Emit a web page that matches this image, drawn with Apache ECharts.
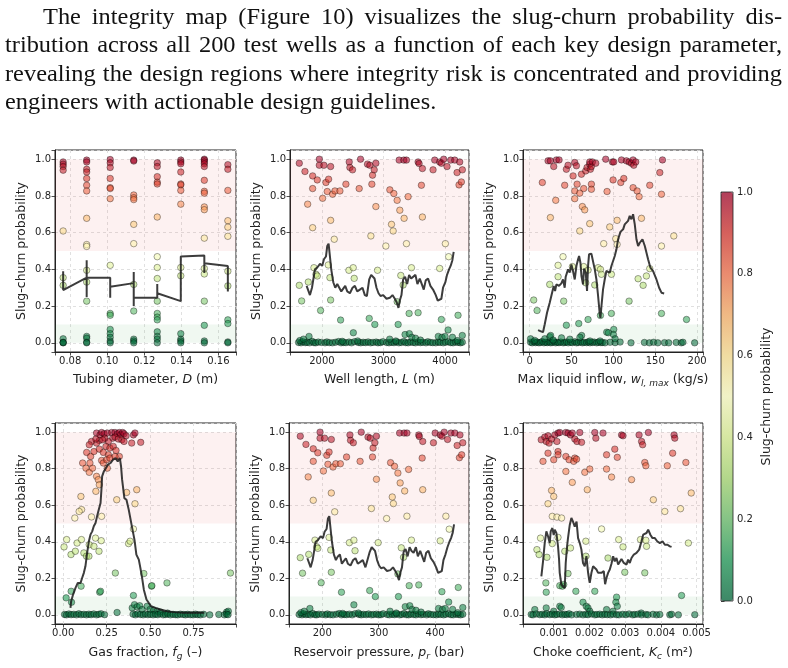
<!DOCTYPE html>
<html>
<head>
<meta charset="utf-8">
<script src="https://cdn.jsdelivr.net/npm/echarts@6.0.0/dist/echarts.min.js"></script>
<style>
html, body { margin: 0; padding: 0; background: #fff; }
#main { width: 788px; height: 668px; }
</style>
</head>
<body>
<div id="main"></div>
<script>
// paragraph above the figure
var paraLines = [
  'The integrity map (Figure 10) visualizes the slug-churn probability dis-',
  'tribution across all 200 test wells as a function of each key design parameter,',
  'revealing the design regions where integrity risk is concentrated and providing',
  'engineers with actionable design guidelines.'
];

// RdYlGn reversed
var cmap = ['#006837', '#1a9850', '#66bd63', '#a6d96a', '#d9ef8b', '#ffffbf',
  '#fee08b', '#fdae61', '#f46d43', '#d73027', '#a50026'];

// --- tubing diameter (discrete sizes) ---
var diamCols = [0.0762, 0.0889, 0.1016, 0.1143, 0.1270, 0.1397, 0.1524, 0.1651];
var diamProb = [
  [0.985, 0.973, 0.96, 0.94, 0.609, 0.355, 0.313, 0.022, 0.0, 0.003, 0.001],
  [0.995, 0.985, 0.945, 0.93, 0.895, 0.858, 0.827, 0.678, 0.535, 0.525, 0.395, 0.331, 0.227, 0.035, 0.025, 0.003, 0.0],
  [0.998, 0.98, 0.955, 0.895, 0.845, 0.84, 0.785, 0.422, 0.16, 0.15, 0.073, 0.05, 0.03, 0.01, 0.0],
  [0.995, 0.99, 0.805, 0.79, 0.78, 0.645, 0.54, 0.318, 0.173, 0.02, 0.01, 0.0],
  [0.98, 0.96, 0.905, 0.875, 0.865, 0.685, 0.469, 0.41, 0.35, 0.227, 0.16, 0.14, 0.125, 0.06, 0.035, 0.02, 0.0],
  [0.995, 0.985, 0.975, 0.93, 0.865, 0.86, 0.83, 0.755, 0.41, 0.365, 0.05, 0.02, 0.01, 0.0],
  [1.0, 0.995, 0.985, 0.975, 0.96, 0.885, 0.825, 0.815, 0.74, 0.725, 0.57, 0.405, 0.375, 0.227, 0.095, 0.01, 0.0],
  [0.97, 0.945, 0.83, 0.665, 0.63, 0.58, 0.39, 0.31, 0.125, 0.105, 0.005, 0.0]
];
var diamMean = [[0.0762,0.39],[0.0762,0.33],[0.0762,0.36],[0.0762,0.287],[0.0889,0.355],[0.0889,0.45],
  [0.0889,0.25],[0.0889,0.40],[0.0889,0.355],[0.1016,0.355],[0.1016,0.245],[0.1016,0.305],[0.1143,0.325],
  [0.1143,0.385],[0.1143,0.20],[0.1143,0.245],[0.1270,0.245],[0.1270,0.32],[0.1270,0.27],[0.1397,0.227],
  [0.1397,0.47],[0.1397,0.46],[0.1524,0.475],[0.1524,0.48],[0.1524,0.38],[0.1524,0.433],[0.1651,0.418],[0.1651,0.28]];

// --- well length / reservoir pressure (same wells) ---
var lenX = [1632,1724,1768,1849,1849,1849,1924,1957,1957,2011,2032,2065,2086,2108,2141,2141,2173,2200,2211,2292,
  2389,2443,2454,2497,2605,2627,2740,2778,2811,2822,2849,2876,2795,2876,3038,3103,3168,3222,3130,3157,
  3254,3330,3373,3265,3335,3373,3400,3562,3578,3616,3632,3632,3805,3832,3913,3940,3978,4032,4092,4157,
  4238,4195,4227,4265,4281,4005,4059,
  1632,1670,1778,1870,1903,1924,1978,2103,2130,2141,2303,2438,2508,2524,2768,2859,2903,3238,3281,3319,
  3416,3562,3454,3913,3940,4049,4211,3222,
  1620,1660,1690,1730,1760,1800,1840,1870,1900,1940,1990,2050,2080,2120,2170,2220,2270,2310,2350,2390,
  2440,2480,2530,2590,2630,2670,2710,2750,2790,2830,2880,2910,2950,2990,3050,3090,3130,3170,3210,3250,
  3290,3330,3360,3400,3440,3480,3520,3560,3600,3640,3690,3720,3760,3800,3850,3890,3920,3970,4010,4050,
  4090,4130,4170,4210,4250,4280,
  1640,1700,1790,2330,2510,2580,3100,3200,3350,3420,3460,3520,3600,3890,3950,4000,4120,4200,4280];
var presX = [161,171,175,184,184,184,192,196,196,202,204,208,210,212,216,216,219,222,224,232,
  243,249,250,255,267,269,281,285,289,290,293,296,287,296,314,321,328,334,324,326,
  337,345,350,338,346,350,353,371,372,377,378,378,397,400,409,412,416,422,428,435,
  444,439,443,447,449,419,425,
  161,165,176,187,190,192,198,212,215,216,234,248,256,258,284,294,299,335,340,344,
  354,371,358,409,412,424,441,334,
  159,164,167,171,175,179,183,187,190,194,200,206,209,214,219,225,230,234,239,243,
  248,253,258,265,269,273,278,282,287,291,296,300,304,308,315,319,324,328,332,337,
  341,345,349,353,357,362,366,370,375,379,385,388,392,397,402,406,410,415,419,424,
  428,432,437,441,445,449,
  162,168,178,236,256,264,320,331,347,355,359,366,375,406,413,418,431,440,449];
var wellProb = [0.978,0.933,0.755,0.909,0.84,0.627,0.887,1.0,0.967,0.787,0.967,0.873,0.824,0.891,0.96,0.667,0.809,0.564,0.827,0.827,
  0.864,0.985,0.955,0.942,0.84,1.0,0.973,0.967,0.864,0.913,0.942,0.978,0.582,0.742,0.527,0.833,0.813,0.776,0.645,0.609,
  0.995,0.995,0.995,0.722,0.678,0.54,0.796,0.985,0.976,0.858,0.949,0.685,0.942,0.995,0.985,0.978,1.0,0.96,0.995,0.995,
  0.985,0.927,0.86,0.876,0.942,0.54,0.469,
  0.313,0.228,0.331,0.409,0.373,0.364,0.176,0.424,0.355,0.233,0.124,0.395,0.409,0.351,0.133,0.1,0.395,0.1,0.367,0.315,
  0.16,0.164,0.409,0.405,0.127,0.07,0.15,0.224,
  0.002,0,0.006,0.001,0.003,0,0.008,0.001,0,0.004,0.002,0,0.005,0.001,0,0.003,0.007,0,0.002,0.001,
  0.004,0,0.006,0.002,0,0.003,0.001,0.005,0,0.002,0.004,0,0.001,0.006,0.002,0,0.003,0.001,0.005,0,
  0.002,0.007,0.001,0,0.004,0.002,0,0.005,0.001,0.003,0,0.006,0.002,0.001,0,0.004,0.002,0,0.003,0.006,
  0.001,0,0.004,0.002,0,0.003,
  0.012,0.02,0.035,0.008,0.055,0.01,0.02,0.01,0.045,0.05,0.03,0.025,0.015,0.035,0.03,0.035,0.03,0.012,0.04];
var lenMeanX = [1751,1778,1805,1838,1886,1924,1968,2005,2032,2065,2086,2108,2130,2151,2184,2216,2249,2281,2314,2346,
  2378,2411,2454,2497,2535,2573,2616,2659,2697,2730,2768,2800,2827,2854,2886,2919,2951,2995,3049,3103,
  3146,3184,3216,3243,3265,3292,3319,3351,3384,3416,3449,3481,3519,3551,3589,3622,3654,3686,3724,3762,
  3805,3849,3881,3913,3940,3967,4005,4032,4065,4092,4119,4140];
var presMeanX = [173.5,176.5,179.4,182.9,188.2,192.4,197.1,201.2,204.1,207.6,210,212.4,214.7,217.1,220.6,224.1,227.6,231.2,234.7,238.2,
  241.8,245.3,250,254.7,258.8,262.9,267.6,271.8,276.5,280,284.1,287.6,290.6,293.5,297.1,300.6,304.1,308.8,314.7,320.6,
  325.3,329.4,332.9,335.9,338.2,341.2,344.1,347.6,351.2,354.7,358.2,361.8,365.9,369.4,373.5,377.1,380.6,384.1,388.2,392.4,
  397.1,401.8,405.3,408.8,411.8,414.7,418.2,421.8,425.3,428.2,431.2,433.5];
var wellMeanY = [0.31,0.30,0.26,0.30,0.40,0.41,0.43,0.42,0.455,0.47,0.527,0.54,0.47,0.40,0.33,0.30,0.32,0.33,0.28,0.29,
  0.31,0.28,0.27,0.30,0.31,0.28,0.29,0.30,0.26,0.255,0.345,0.37,0.38,0.35,0.30,0.27,0.255,0.26,0.24,0.245,
  0.26,0.24,0.22,0.19,0.23,0.26,0.345,0.36,0.32,0.37,0.35,0.34,0.37,0.32,0.35,0.32,0.29,0.34,0.35,0.31,
  0.29,0.26,0.23,0.225,0.24,0.30,0.33,0.37,0.40,0.42,0.45,0.495];

// --- max liquid inflow ---
var inflowPts = [[21.9,0.991],[24.7,0.991],[28.7,0.96],[31.9,0.996],[35.1,0.996],[24.7,0.682],[31.1,0.776],[15.1,0.873],
  [41.8,0.858],[43.8,0.945],[45.8,0.967],[51.8,0.909],[53.8,0.982],[55.8,0.964],[53.8,0.827],[56.6,0.864],[53.8,0.785],
  [59.8,0.815],[59.8,0.609],[61.8,0.918],[62.9,0.742],[65.7,0.724],[64.5,0.84],[66.9,0.936],[68.5,0.955],[71.7,0.973],
  [72.5,0.945],[71.7,0.985],[73.7,0.96],[74.9,0.985],[73.7,0.864],[73.7,0.836],[71.7,0.649],[78.9,0.978],[90.8,1.0],
  [92.4,0.824],[95.6,0.631],[98.8,0.985],[99.6,0.887],[100.4,0.985],[102.8,0.567],[104.4,0.667],[104.4,0.536],[88.4,0.54],
  [108.8,0.873],[109.6,0.996],[112.4,0.895],[115.5,0.991],[118.7,0.985],[121.5,0.978],[123.5,0.996],[123.5,0.845],
  [124.3,0.967],[126.7,0.985],[128.3,0.827],[130.7,0.796],[133.5,0.678],[143.4,0.858],[155.4,0.927],[158.6,0.996],
  [157.4,0.809],[157.4,0.527],[172.1,0.582],
  [4.8,0.233],[8.8,0.176],[23.9,0.318],[33.9,0.422],[33.9,0.36],[39.8,0.469],[40.6,0.227],[43.8,0.096],[51,0.415],
  [58.6,0.105],[64.5,0.415],[66.9,0.327],[69.7,0.396],[69.7,0.127],[77.7,0.315],[81.7,0.409],[84.5,0.4],[85.7,0.373],
  [84.5,0.149],[97.6,0.373],[97.6,0.16],[100.4,0.073],[118.7,0.227],[129.5,0.349],[135.5,0.313],[139.4,0.364],
  [143.4,0.404],[157.4,0.16],[187.3,0.127],
  [1,0.003],[3,0],[5,0.006],[7,0.001],[9,0.004],[11,0],[13,0.002],[15,0.007],[17,0],[19,0.003],[21,0.001],[23,0.005],
  [25,0],[27,0.002],[29,0.006],[31,0],[33,0.003],[35,0.001],[37,0.004],[40,0],[42,0.002],[44,0.005],[46,0],[49,0.003],
  [51,0.001],[54,0.006],[56,0],[58,0.002],[61,0.004],[63,0],[65,0.003],[68,0.001],[70,0.005],[72,0],[75,0.002],
  [77,0.004],[80,0],[82,0.003],[85,0.001],[87,0.002],[90,0],[96,0.003],[102,0.001],[108,0.004],[121,0],[137,0.002],
  [143,0],[148,0.003],[153,0],[161,0.001],[166,0],[175,0.002],[181,0],[183,0.003],[197,0],
  [1,0.022],[6,0.013],[18,0.022],[24,0.033],[25,0.04],[28,0.015],[38,0.027],[48,0.02],[62,0.04],[72,0.01],
  [92,0.058],[94,0.055],[100,0.045],[102,0.022],[60,0.03],[84,0.01]];
var inflowMean = [[10,0.069],[12.7,0.064],[15.9,0.058],[17.9,0.1],[20.7,0.164],[23.9,0.218],[27.1,0.28],[28.7,0.31],
  [30.3,0.282],[31.9,0.318],[35,0.31],[37.8,0.324],[39.8,0.345],[41.8,0.3],[43,0.36],[45.8,0.4],[47.8,0.382],
  [49.8,0.427],[51.8,0.39],[53.8,0.345],[55.8,0.418],[57.8,0.455],[59,0.473],[60.6,0.436],[61.8,0.364],[63.7,0.318],
  [64.9,0.404],[66.9,0.382],[68.5,0.282],[69.7,0.418],[70.9,0.482],[73.7,0.485],[75.7,0.482],[77.7,0.4],[79.7,0.345],
  [81.7,0.255],[83.7,0.155],[84.5,0.136],[85.7,0.2],[87.6,0.291],[89.6,0.345],[91.6,0.391],[93.6,0.4],[95.6,0.382],
  [97.6,0.418],[99.6,0.427],[101.6,0.473],[103.6,0.509],[105.6,0.564],[108.4,0.604],[111.6,0.618],[113.5,0.645],
  [115.5,0.655],[117.5,0.664],[119.5,0.691],[121.5,0.673],[123.5,0.7],[125.5,0.645],[127.5,0.564],[129.5,0.527],
  [131.5,0.545],[134.7,0.564],[137.5,0.527],[141.4,0.455],[144.2,0.409],[147.4,0.391],[151.4,0.345],[154.6,0.3],
  [157.4,0.273],[160.6,0.269]];

// --- gas fraction ---
var gasPts = [[0.192,0.995],[0.212,0.985],[0.221,0.998],[0.235,0.991],[0.254,0.995],[0.279,0.998],[0.298,0.998],
  [0.312,0.991],[0.323,0.998],[0.331,0.985],[0.342,0.998],[0.35,0.991],[0.362,0.98],[0.285,0.967],[0.298,0.973],
  [0.317,0.962],[0.337,0.958],[0.35,0.949],[0.26,0.949],[0.24,0.967],[0.208,0.954],[0.192,0.94],[0.163,0.949],
  [0.15,0.931],[0.188,0.962],[0.227,0.958],[0.404,0.985],[0.413,0.995],[0.394,0.94],[0.446,0.944],[0.135,0.889],
  [0.158,0.867],[0.177,0.894],[0.208,0.907],[0.246,0.922],[0.269,0.913],[0.288,0.922],[0.304,0.9],[0.323,0.867],
  [0.231,0.889],[0.26,0.876],[0.221,0.845],[0.231,0.831],[0.112,0.831],[0.131,0.803],[0.15,0.78],[0.169,0.803],
  [0.154,0.831],[0.25,0.849],[0.254,0.803],[0.269,0.858],[0.298,0.867],[0.192,0.758],[0.202,0.74],[0.188,0.676],
  [0.208,0.712],[0.365,0.67],[0.423,0.685],[0.308,0.63],[0.102,0.648],[0.106,0.576],[0.092,0.566],[0.067,0.53],
  [0.163,0.536],[0.221,0.539],[0.413,0.608],
  [0.005,0.372],[0.02,0.412],[0.045,0.33],[0.07,0.348],[0.08,0.393],[0.105,0.412],[0.119,0.339],[0.134,0.321],
  [0.148,0.321],[0.15,0.384],[0.177,0.375],[0.186,0.42],[0.206,0.348],[0.219,0.406],[0.376,0.39],[0.385,0.403],
  [0.404,0.47],[0.3,0.229],[0.21,0.124],[0.215,0.129],[0.103,0.157],[0.464,0.226],[0.508,0.157],[0.51,0.16],
  [0.597,0.175],[0.404,0.106],[0.962,0.229],[0.017,0.093],[0.046,0.129],[0.048,0.069],
  [0.397,0.038],[0.41,0.056],[0.425,0.044],[0.44,0.05],[0.454,0.029],[0.483,0.047],[0.5,0.03],[0.52,0.025],
  [0.54,0.02],[0.56,0.015],[0.31,0.013],[0.6,0.01],[0.94,0.015],[0.95,0.02],
  [0.008,0.002],[0.019,0],[0.033,0.005],[0.046,0.001],[0.061,0.003],[0.077,0],[0.09,0.006],[0.103,0.001],
  [0.119,0.003],[0.134,0],[0.148,0.004],[0.161,0.001],[0.176,0.005],[0.192,0],[0.205,0.003],[0.218,0.006],
  [0.238,0.001],[0.402,0.004],[0.416,0],[0.429,0.006],[0.444,0.002],[0.46,0],[0.473,0.005],[0.487,0.001],
  [0.502,0.003],[0.517,0],[0.531,0.004],[0.544,0.001],[0.559,0.006],[0.575,0],[0.588,0.002],[0.602,0.004],
  [0.617,0],[0.632,0.003],[0.646,0.001],[0.659,0],[0.674,0.004],[0.69,0.002],[0.703,0],[0.716,0.003],
  [0.732,0.001],[0.747,0],[0.761,0.004],[0.774,0.001],[0.789,0],[0.808,0.003],[0.843,0],[0.895,0.002],
  [0.927,0],[0.939,0.004],[0.948,0.001]];
var gasMean = [[0.042,0.038],[0.046,0.075],[0.057,0.111],[0.071,0.148],[0.084,0.175],[0.1,0.175],[0.109,0.202],
  [0.119,0.23],[0.128,0.266],[0.138,0.339],[0.148,0.403],[0.157,0.439],[0.167,0.457],[0.176,0.485],[0.186,0.503],
  [0.195,0.539],[0.205,0.576],[0.215,0.612],[0.22,0.685],[0.224,0.758],[0.234,0.785],[0.243,0.798],[0.257,0.822],
  [0.272,0.831],[0.287,0.849],[0.301,0.858],[0.314,0.84],[0.326,0.858],[0.333,0.812],[0.339,0.74],[0.352,0.639],
  [0.364,0.63],[0.377,0.576],[0.397,0.475],[0.41,0.412],[0.421,0.33],[0.435,0.302],[0.444,0.257],[0.454,0.202],
  [0.464,0.138],[0.479,0.084],[0.492,0.066],[0.506,0.047],[0.531,0.038],[0.559,0.029],[0.598,0.02],[0.636,0.015],
  [0.693,0.011],[0.751,0.011],[0.812,0.011]];

// --- choke coefficient ---
var chokePts = [[0.00065,0.958],[0.00075,0.973],[0.00079,0.949],[0.00084,0.98],[0.00087,0.94],[0.00094,0.962],
  [0.00103,0.985],[0.00112,0.995],[0.00117,0.998],[0.00109,0.949],[0.00134,0.998],[0.0014,0.995],[0.00147,0.985],
  [0.00152,0.995],[0.00159,0.962],[0.00165,0.949],[0.00173,0.998],[0.00178,0.944],[0.00215,0.998],[0.00218,0.967],
  [0.00238,0.995],[0.0029,0.985],[0.00294,0.98],[0.00339,0.985],[0.00346,0.949],[0.00349,0.931],[0.00365,0.998],
  [0.00437,0.985],[0.00439,0.967],[0.0007,0.84],[0.00084,0.885],[0.001,0.849],[0.00112,0.894],[0.00112,0.876],
  [0.00134,0.867],[0.00143,0.849],[0.00159,0.858],[0.00156,0.84],[0.00164,0.852],[0.00134,0.785],[0.00152,0.725],
  [0.00187,0.78],[0.00201,0.798],[0.00194,0.685],[0.00248,0.876],[0.00248,0.798],[0.00262,0.754],[0.00271,0.907],
  [0.00278,0.862],[0.00318,0.74],[0.00355,0.834],[0.00358,0.816],[0.00379,0.63],[0.00418,0.816],[0.00433,0.885],
  [0.0047,0.834],[0.00411,0.566],[0.00455,0.581],[0.00485,0.667],[0.00094,0.681],[0.001,0.648],[0.00084,0.608],
  [0.00096,0.539],[0.00109,0.535],[0.00122,0.53],
  [0.00063,0.42],[0.00053,0.357],[0.00059,0.33],[0.00081,0.315],[0.00096,0.39],[0.00112,0.424],[0.00131,0.348],
  [0.00147,0.366],[0.0014,0.226],[0.0019,0.403],[0.0019,0.321],[0.00234,0.47],[0.00252,0.311],[0.00282,0.412],
  [0.00294,0.372],[0.00299,0.233],[0.00343,0.412],[0.00358,0.408],[0.0036,0.375],[0.00355,0.23],[0.00477,0.393],
  [0.00078,0.175],[0.00079,0.124],[0.00117,0.16],[0.00124,0.157],[0.00128,0.166],[0.00162,0.129],[0.00215,0.129],
  [0.00276,0.097],[0.00458,0.106],
  [0.00047,0.029],[0.00079,0.038],[0.001,0.02],[0.00117,0.047],[0.00121,0.04],[0.00182,0.069],[0.00191,0.047],
  [0.00196,0.038],[0.00201,0.02],[0.00248,0.029],[0.00274,0.069],[0.00278,0.047],[0.00266,0.02],[0.00345,0.01],
  [0.00037,0.002],[0.00042,0],[0.00051,0.005],[0.00061,0.001],[0.00068,0.003],[0.00075,0],[0.00081,0.006],
  [0.00089,0.001],[0.00096,0.004],[0.00103,0],[0.00109,0.002],[0.00117,0.005],[0.00124,0],[0.00131,0.003],
  [0.00137,0.001],[0.00143,0.006],[0.0015,0],[0.00164,0.002],[0.00173,0.004],[0.00182,0],[0.0019,0.003],
  [0.00196,0.001],[0.00206,0.005],[0.00215,0],[0.00221,0.002],[0.00229,0.004],[0.00236,0],[0.00243,0.003],
  [0.0025,0.001],[0.00259,0],[0.00266,0.004],[0.00276,0.001],[0.00283,0],[0.00293,0.003],[0.00302,0.001],
  [0.00311,0.005],[0.00321,0],[0.00327,0.002],[0.00336,0.004],[0.00346,0],[0.00358,0.002],[0.00364,0],
  [0.00378,0.003],[0.00388,0],[0.00397,0.002],[0.00425,0],[0.0043,0.003],[0.00449,0],[0.00495,0.001]];
var chokeMeanX = [0.000654,0.000701,0.000748,0.000794,0.000841,0.000888,0.000916,0.000963,0.001,0.001028,
  0.001075,0.001121,0.00115,0.001168,0.001215,0.001262,0.001308,0.001336,0.001374,0.0014,
  0.001449,0.001495,0.00154,0.001589,0.00164,0.001682,0.00173,0.001776,0.00182,0.001869,
  0.001916,0.001963,0.001991,0.002009,0.002056,0.002103,0.00215,0.002196,0.002243,0.002336,
  0.002402,0.002439,0.002477,0.002523,0.00257,0.002617,0.002664,0.00271,0.002757,0.002804,
  0.00285,0.002897,0.002963,0.003037,0.003084,0.00313,0.003178,0.003243,0.003318,0.003393,
  0.003458,0.003505,0.003551,0.003598,0.003645,0.00371,0.003766,0.003832,0.003897,0.003972,
  0.004047,0.004112,0.004187,0.004252,0.0043];
var chokeMeanY = [0.211,0.293,0.393,0.457,0.43,0.393,0.457,0.475,0.437,0.466,
  0.448,0.375,0.302,0.23,0.166,0.17,0.146,0.284,0.375,0.42,
  0.492,0.53,0.51,0.483,0.51,0.42,0.393,0.357,0.284,0.266,
  0.321,0.23,0.193,0.175,0.23,0.266,0.275,0.248,0.23,0.23,
  0.239,0.168,0.202,0.23,0.248,0.28,0.321,0.293,0.311,0.275,
  0.284,0.306,0.284,0.275,0.302,0.284,0.311,0.33,0.339,0.357,
  0.403,0.439,0.43,0.448,0.466,0.437,0.42,0.42,0.403,0.393,
  0.403,0.384,0.384,0.375,0.372];

var probTicks = [0, 0.2, 0.4, 0.6, 0.8, 1.0];

function zip(a, b) {
  return a.map(function (v, i) { return [v, b[i]]; });
}

var diamPts = [];
diamCols.forEach(function (d, i) {
  diamProb[i].forEach(function (p) { diamPts.push([d, p]); });
});

var panels = [
  { pts: diamPts, mean: diamMean, range: [0.0718, 0.1695], step: 0.02, dec: 2,
    name: 'Tubing diameter, {i|D} (m)' },
  { pts: zip(lenX, wellProb), mean: zip(lenMeanX, wellMeanY), range: [1481, 4389], step: 1000, dec: 0,
    name: 'Well length, {i|L} (m)' },
  { pts: inflowPts, mean: inflowMean, range: [-8, 207], step: 50, dec: 0,
    name: 'Max liquid inflow, {i|w}{s|l, max} (kg/s)' },
  { pts: gasPts, mean: gasMean, range: [-0.047, 0.994], step: 0.25, dec: 2,
    name: 'Gas fraction, {i|f}{s|g} (\u2013)' },
  { pts: zip(presX, wellProb), mean: zip(presMeanX, wellMeanY), range: [141, 460], step: 100, dec: 0,
    name: 'Reservoir pressure, {i|p}{s|r} (bar)' },
  { pts: chokePts, mean: zip(chokeMeanX, chokeMeanY), range: [0.00014, 0.00518], step: 0.001, dec: 3,
    name: 'Choke coefficient, {i|K}{s|c} (m\u00b2)' }
];

var boxes = [
  { left: 55, top: 150, width: 181, height: 202 },
  { left: 290, top: 150, width: 179, height: 202 },
  { left: 523, top: 150, width: 180, height: 202 },
  { left: 55, top: 423, width: 181, height: 201 },
  { left: 289, top: 423, width: 180, height: 201 },
  { left: 523, top: 423, width: 180, height: 201 }
];

var ink = '#222';
var sans = 'DejaVu Sans';

function tickFmt(step, dec) {
  return function (v) {
    var q = v / step;
    return Math.abs(q - Math.round(q)) < 1e-6 ? v.toFixed(dec) : '';
  };
}

var grids = [], xAxes = [], yAxes = [], series = [];
panels.forEach(function (p, i) {
  var b = boxes[i];
  grids.push({ left: b.left, top: b.top, width: b.width, height: b.height,
    show: true, borderColor: ink, borderWidth: 1, backgroundColor: 'transparent' });
  xAxes.push({
    type: 'value', gridIndex: i, min: p.range[0], max: p.range[1],
    minInterval: p.step, maxInterval: p.step,
    splitNumber: Math.round((p.range[1] - p.range[0]) / p.step),
    name: p.name, nameLocation: 'middle', nameGap: i < 3 ? 20 : 21,
    nameTextStyle: { color: ink, fontSize: 12.5, fontFamily: sans, lineHeight: 16,
      rich: {
        i: { fontStyle: 'italic', fontSize: 12.5, fontFamily: sans, color: ink, lineHeight: 16 },
        s: { fontStyle: 'italic', fontSize: 9, fontFamily: sans, color: ink, lineHeight: 10, verticalAlign: 'bottom' }
      } },
    axisLine: { show: true, onZero: false, lineStyle: { color: ink, width: 1 } },
    axisTick: { show: true, inside: false, length: 3.5, lineStyle: { color: ink, width: 0.8 } },
    axisLabel: { color: ink, fontSize: 10, fontFamily: sans, margin: 4, formatter: tickFmt(p.step, p.dec) },
    splitLine: { show: true, lineStyle: { color: '#d8d8d8', type: [3, 3], width: 0.8 } }
  });
  yAxes.push({
    type: 'value', gridIndex: i, min: -0.05, max: 1.05, minInterval: 0.2, maxInterval: 0.2, splitNumber: 5,
    name: 'Slug-churn probability', nameLocation: 'middle', nameGap: 27,
    nameTextStyle: { color: ink, fontSize: 12.5, fontFamily: sans },
    axisLine: { show: true, onZero: false, lineStyle: { color: ink, width: 1 } },
    axisTick: { show: true, inside: false, length: 3.5, lineStyle: { color: ink, width: 0.8 } },
    axisLabel: { color: ink, fontSize: 10, fontFamily: sans, margin: 4, formatter: tickFmt(0.2, 1) },
    splitLine: { show: true, lineStyle: { color: '#d8d8d8', type: [3, 3], width: 0.8 } }
  });
  series.push({
    type: 'scatter', xAxisIndex: i, yAxisIndex: i, data: p.pts, symbolSize: 6.5, z: 3,
    itemStyle: { borderColor: 'rgba(0,0,0,0.75)', borderWidth: 0.6 },
    markArea: {
      silent: true,
      data: [
        [{ yAxis: 0.5, itemStyle: { color: 'rgba(230,60,60,0.07)' } }, { yAxis: 1.0 }],
        [{ yAxis: 0, itemStyle: { color: 'rgba(40,150,60,0.07)' } }, { yAxis: 0.1 }]
      ]
    }
  });
  series.push({
    type: 'line', xAxisIndex: i, yAxisIndex: i, data: p.mean, symbol: 'none', z: 5, silent: true,
    lineStyle: { color: '#1a1a1a', width: 2, opacity: 0.85 }
  });
});

// colorbar axis
grids.push({ left: 721, top: 192, width: 12, height: 409, show: true, borderColor: ink, borderWidth: 0.8,
  backgroundColor: 'transparent', z: 6 });
xAxes.push({ type: 'value', gridIndex: 6, show: false, min: 0, max: 1 });
yAxes.push({
  type: 'value', gridIndex: 6, position: 'right', min: 0, max: 1, interval: 0.2,
  name: 'Slug-churn probability', nameLocation: 'middle', nameRotate: 90, nameGap: 27,
  nameTextStyle: { color: ink, fontSize: 12.5, fontFamily: sans },
  axisLine: { show: false },
  axisTick: { show: true, inside: false, length: 3.5, lineStyle: { color: ink, width: 0.8 } },
  axisLabel: { color: ink, fontSize: 10, fontFamily: sans, margin: 4,
    formatter: function (v) { return probTicks.indexOf(Math.round(v * 10) / 10) >= 0 ? v.toFixed(1) : ''; } },
  splitLine: { show: false }
});

// paragraph, justified word by word (slightly widened serif to mimic the book face)
var paraSize = 23;
var paraStretch = 1.06;
var paraFont = paraSize + 'px "Liberation Serif"';
var paraY = [17.5, 46, 74.5, 102.5];
var measure = document.createElement('canvas').getContext('2d');
measure.font = paraFont;
var paraText = [];
paraLines.forEach(function (line, k) {
  var words = line.split(' ');
  var widths = words.map(function (w) { return measure.measureText(w).width * paraStretch; });
  var sum = widths.reduce(function (a, b) { return a + b; }, 0);
  var x0 = k === 0 ? 43 : 5;
  var gap = k < 3 ? (782 - x0 - sum) / (words.length - 1) : measure.measureText(' ').width * paraStretch;
  var x = x0;
  words.forEach(function (w, j) {
    paraText.push({ type: 'text', x: x, y: paraY[k], scaleX: paraStretch, silent: true,
      style: { text: w, font: paraFont, fill: '#111', verticalAlign: 'middle' } });
    x += widths[j] + gap;
  });
});

var myChart = echarts.init(document.getElementById('main'));
myChart.setOption({
  animation: false,
  backgroundColor: '#fff',
  grid: grids,
  xAxis: xAxes,
  yAxis: yAxes,
  visualMap: {
    type: 'continuous', min: 0, max: 1, dimension: 1, seriesIndex: [0, 2, 4, 6, 8, 10],
    left: 721, top: 192, itemWidth: 12, itemHeight: 409, padding: 0,
    calculable: false, hoverLink: false, showLabel: false,
    inRange: { color: cmap, colorAlpha: [0.7, 0.7] }
  },
  graphic: paraText,
  series: series
});
</script>
</body>
</html>
